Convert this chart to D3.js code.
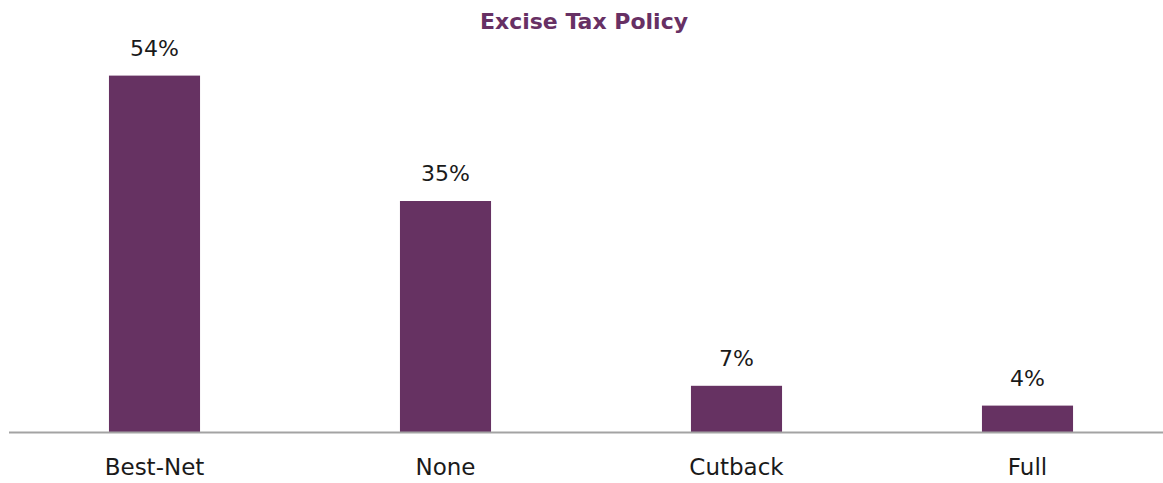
<!DOCTYPE html>
<html>
<head>
<meta charset="utf-8">
<script src="https://cdn.jsdelivr.net/npm/d3@7"></script>
<style>
  html, body { margin: 0; padding: 0; background: #fff; }
  svg { display: block; }
  text { font-family: "DejaVu Sans", "Open Sans", sans-serif; }
</style>
</head>
<body>
<div id="chart"></div>
<script>
// Share of companies by excise tax policy
const categories = ["Best-Net", "None", "Cutback", "Full"];
const shares = [54, 35, 7, 4];
const chartTitle = "Excise Tax Policy";

const width = 1163, height = 483;
const baseY = 432;
const barColor = "#663262";
const fontStack = "'DejaVu Sans', 'Open Sans', sans-serif";

const svg = d3.select("#chart").append("svg")
  .attr("width", width)
  .attr("height", height);

const x = d3.scaleBand()
  .domain(categories)
  .range([9, 1173])
  .paddingInner(0.687)
  .paddingOuter(0.3435);

const y = d3.scaleLinear()
  .domain([0, 60])
  .range([baseY, baseY - 396]);

// title
svg.append("text")
  .attr("x", 584)
  .attr("y", 29)
  .attr("text-anchor", "middle")
  .attr("fill", "#673064")
  .attr("font-weight", 700)
  .attr("font-size", 22)
  .text(chartTitle);

// bars
svg.selectAll("rect.bar")
  .data(categories)
  .join("rect")
  .attr("class", "bar")
  .attr("x", d => x(d))
  .attr("width", x.bandwidth())
  .attr("y", (d, i) => y(shares[i]))
  .attr("height", (d, i) => baseY - y(shares[i]))
  .attr("fill", barColor);

// value labels
svg.selectAll("text.val")
  .data(categories)
  .join("text")
  .attr("class", "val")
  .attr("x", d => x(d) + x.bandwidth() / 2)
  .attr("y", (d, i) => y(shares[i]) - 20)
  .attr("text-anchor", "middle")
  .attr("fill", "#1a1a1a")
  .attr("font-size", 22)
  .text((d, i) => shares[i] + "%");

// category axis
const axis = svg.append("g")
  .attr("transform", `translate(0,${baseY})`)
  .call(d3.axisBottom(x).tickSize(0).tickPadding(27));
axis.select(".domain").remove();
axis.append("line")
  .attr("x1", 9).attr("x2", width)
  .attr("y1", 0.5).attr("y2", 0.5)
  .attr("stroke", "#a3a3a3")
  .attr("stroke-width", 2);
axis.selectAll(".tick text")
  .attr("font-family", fontStack)
  .attr("font-size", 23)
  .attr("fill", "#1a1a1a")
  .attr("dy", "0.71em");
</script>
</body>
</html>
